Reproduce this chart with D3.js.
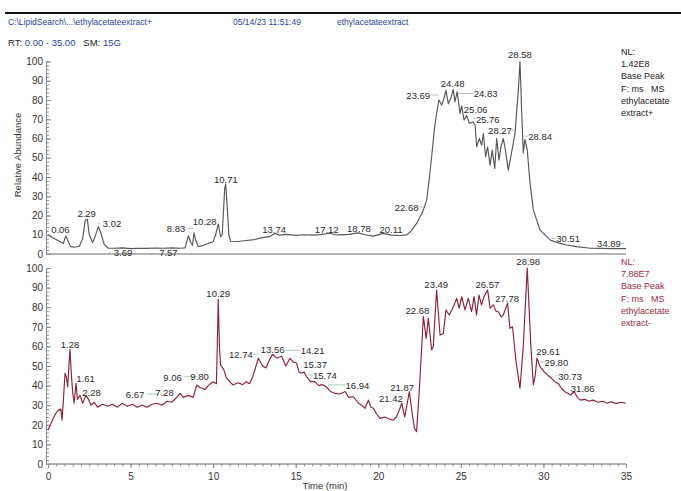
<!DOCTYPE html>
<html>
<head>
<meta charset="utf-8">
<script src="https://cdn.jsdelivr.net/npm/d3@7"></script>
<style>
  body { margin: 0; background: #fff; }
  svg { display: block; font-family: "Liberation Sans", Arial, sans-serif; }
  svg text { white-space: pre; }
</style>
</head>
<body>
<svg id="chart" width="681" height="491"></svg>
<script>
// positive-mode trace (time in min, relative abundance)
const topTimes = [0, 0.3, 0.6, 0.93, 1.07, 1.2, 1.37, 1.6, 1.9, 2.1, 2.25, 2.38, 2.5, 2.7, 2.85, 3.05, 3.2, 3.4, 3.65, 4.0, 4.5, 5.0, 5.5, 6.0, 6.5, 7.0, 7.5, 8.0, 8.3, 8.5, 8.65, 8.75, 8.84, 8.95, 9.1, 9.4, 9.7, 10.0, 10.15, 10.31, 10.45, 10.55, 10.7, 10.76, 10.85, 10.95, 11.06, 11.5, 12.0, 12.5, 13.0, 13.4, 13.74, 14.0, 14.5, 15.0, 15.5, 16.0, 16.5, 17.07, 17.4, 17.68, 18.2, 18.79, 19.2, 19.7, 20.3, 20.8, 21.3, 21.72, 22.0, 22.32, 22.69, 22.93, 23.1, 23.23, 23.4, 23.53, 23.67, 23.83, 23.95, 24.1, 24.24, 24.4, 24.54, 24.64, 24.78, 24.95, 25.05, 25.19, 25.35, 25.51, 25.72, 25.86, 25.96, 26.12, 26.26, 26.36, 26.5, 26.62, 26.77, 26.9, 27.05, 27.17, 27.31, 27.43, 27.57, 27.7, 27.87, 28.07, 28.28, 28.48, 28.58, 28.7, 28.78, 28.88, 29.02, 29.19, 29.39, 29.79, 30.4, 30.9, 31.41, 32.0, 32.82, 33.5, 34.2, 35];
const topValues = [9.9, 8.5, 7, 5.5, 9.3, 7, 3.8, 3.5, 4, 8, 17.5, 18, 10, 5.9, 9, 14.2, 11, 5, 3, 3, 3.2, 2.8, 3, 2.9, 3.1, 3, 3.2, 3, 3.2, 9.5, 6, 4.5, 11, 7, 3.8, 4.5, 5.5, 6.4, 10, 15.6, 9, 10, 34, 36.4, 25, 10, 6.6, 6.5, 7, 7.5, 8.5, 9, 10.7, 9.8, 10.2, 9.7, 10, 9.8, 10.1, 10.8, 10, 9.9, 10.2, 11, 10, 9.3, 10.7, 9.8, 9.6, 9.9, 12, 15.9, 22, 28, 40, 50.5, 65, 73, 80, 77.4, 80, 85, 78, 81, 85.5, 79, 84.3, 73, 77, 69.6, 72, 67.9, 68.6, 67, 55.7, 60, 56.5, 62.6, 50.5, 55.7, 46.2, 54, 44.5, 60, 48.7, 55.7, 60, 54, 43.6, 52.6, 62.7, 85, 100, 70, 52.5, 59.5, 54, 36.7, 22.9, 12.5, 7.3, 5.8, 4.7, 3.8, 3, 2.9, 2.8, 2.8];

// negative-mode trace
const botTimes = [0, 0.15, 0.32, 0.45, 0.62, 0.78, 0.85, 0.95, 1.03, 1.12, 1.19, 1.33, 1.42, 1.5, 1.58, 1.7, 1.78, 1.94, 2.1, 2.3, 2.45, 2.6, 2.8, 3.0, 3.3, 3.6, 3.9, 4.2, 4.5, 4.8, 5.1, 5.4, 5.7, 6.0, 6.3, 6.6, 6.9, 7.2, 7.5, 7.8, 8.0, 8.2, 8.5, 8.8, 9.0, 9.2, 9.5, 9.7, 10.0, 10.2, 10.31, 10.38, 10.45, 10.65, 10.8, 11.0, 11.2, 11.5, 11.8, 12.0, 12.2, 12.4, 12.74, 13.0, 13.2, 13.4, 13.6, 13.85, 14.15, 14.4, 14.65, 14.85, 15.05, 15.2, 15.35, 15.5, 15.65, 15.9, 16.15, 16.4, 16.6, 16.85, 17.1, 17.4, 17.68, 18.0, 18.2, 18.5, 18.8, 19.0, 19.2, 19.4, 19.55, 19.7, 19.9, 20.1, 20.4, 20.7, 20.9, 21.1, 21.25, 21.42, 21.6, 21.88, 22.08, 22.2, 22.32, 22.5, 22.73, 22.9, 23.03, 23.23, 23.33, 23.53, 23.74, 23.94, 24.1, 24.3, 24.55, 24.75, 24.9, 25.05, 25.25, 25.45, 25.65, 25.8, 25.95, 26.1, 26.25, 26.4, 26.62, 26.77, 26.97, 27.12, 27.27, 27.45, 27.57, 27.83, 27.97, 28.13, 28.33, 28.58, 28.78, 29.02, 29.23, 29.39, 29.5, 29.61, 29.8, 30.05, 30.3, 30.5, 30.7, 30.9, 31.1, 31.3, 31.5, 31.65, 31.86, 32.05, 32.25, 32.5, 32.75, 33.0, 33.3, 33.6, 33.85, 34.1, 34.4, 34.7, 35];
const botValues = [17.3, 20, 23.3, 25.5, 27.5, 28, 22.4, 35, 46.3, 44, 39.4, 58.5, 45, 36, 31, 41.2, 33, 35, 31, 35, 33, 30, 31.5, 29, 30.5, 29.5, 30.5, 29, 31, 29.5, 30.5, 29, 30, 29, 30.5, 31, 30, 32, 31.5, 34, 36, 34, 35, 34, 40.3, 39, 38, 40, 42, 41, 84, 60, 50.5, 48, 44, 42, 40.3, 41.5, 40.5, 42, 41, 44.5, 54, 50, 49, 53, 56, 54, 55, 50, 54, 52, 51.5, 47, 46.3, 47, 44.6, 42, 42, 40, 40.5, 39.4, 37, 36, 35.7, 37, 34, 34.3, 31, 30, 28.4, 32.6, 29, 28.4, 25.5, 23.3, 24, 22.8, 22.4, 24, 27, 31, 24, 36.9, 24, 18, 16.5, 40, 75.2, 64, 74.4, 58.2, 60, 88.8, 65.8, 66.6, 78.6, 76, 80.3, 84.5, 79.5, 85.4, 78.6, 84.5, 77.7, 85.4, 76, 86.2, 81.2, 85.4, 88.8, 79.5, 81.2, 78, 77.7, 75, 76, 82, 69.2, 70, 53, 38.6, 60, 100, 61.6, 40.3, 45, 54, 49.6, 47, 45, 43.6, 42, 41, 38.5, 36.9, 36, 35.2, 37, 34, 32.6, 33, 32, 32.6, 31.5, 32, 31, 31.8, 30.8, 31.5, 31];

// peak labels: text, label centre time, label baseline abundance
const topLabels = ['0.06', '2.29', '3.02', '3.69', '7.57', '8.83', '10.28', '10.71', '13.74', '17.12', '18.78', '20.11', '22.68', '23.69', '24.48', '24.83', '25.06', '25.76', '28.27', '28.58', '28.84', '30.51', '34.89'];
const topLabelT = [0.75, 2.34, 3.88, 4.54, 7.29, 7.75, 9.49, 10.77, 13.69, 16.88, 18.83, 20.77, 21.72, 22.42, 24.5, 26.5, 25.9, 26.63, 27.37, 28.58, 29.8, 31.49, 33.97];
const topLabelV = [10.9, 19, 14, -1, -1, 11.2, 15, 37, 11, 11, 11.2, 10.7, 22.3, 80.5, 86.5, 81.3, 73.5, 68.3, 62.3, 102, 59.2, 6, 3.4];

const botLabels = ['1.28', '1.61', '2.28', '6.67', '7.28', '9.06', '9.80', '10.29', '12.74', '13.56', '14.21', '15.37', '15.74', '16.94', '21.42', '21.87', '22.68', '23.49', '26.57', '27.78', '28.98', '29.61', '29.80', '30.73', '31.86'];
const botLabelT = [1.33, 2.27, 2.64, 5.27, 7.05, 7.54, 9.18, 10.31, 11.68, 13.6, 16.02, 16.17, 16.77, 18.74, 20.76, 21.44, 22.37, 23.51, 26.61, 27.8, 29.08, 30.28, 30.78, 31.61, 32.37];
const botLabelV = [59.2, 42, 34.9, 33.7, 34.9, 42.5, 42.9, 85, 54, 56.5, 56, 49, 43.4, 38.3, 31.5, 37.4, 76.5, 90, 90, 82.8, 101.5, 55.6, 50, 42.9, 36.6];

const yTickValues = d3.range(0, 101, 10);
const xTickValues = d3.range(0, 36, 5);

const topInfo = ['NL:', '1.42E8', 'Base Peak', 'F: ms   MS', 'ethylacetate', 'extract+'];
const botInfo = ['NL:', '7.88E7', 'Base Peak', 'F: ms   MS', 'ethylacetate', 'extract-'];

const svg = d3.select('#chart');
const blue = '#2b3f9c';
const axisColor = '#8a8a8a';

const x = d3.scaleLinear().domain([0, 35]).range([48, 626]);
const yTop = d3.scaleLinear().domain([0, 100]).range([254, 61.5]);
const yBot = d3.scaleLinear().domain([0, 100]).range([464, 268]);

// header
svg.append('line').attr('x1', 5).attr('x2', 681).attr('y1', 13).attr('y2', 13)
    .attr('stroke', '#111').attr('stroke-width', 2);
svg.append('text').attr('x', 8).attr('y', 25).attr('font-size', 8.5).attr('fill', blue)
    .text('C:\\LipidSearch\\...\\ethylacetateextract+');
svg.append('text').attr('x', 233).attr('y', 25).attr('font-size', 8.5).attr('fill', blue)
    .text('05/14/23 11:51:49');
svg.append('text').attr('x', 337).attr('y', 25).attr('font-size', 8.5).attr('fill', blue)
    .text('ethylacetateextract');
const rt = svg.append('text').attr('x', 8).attr('y', 46).attr('font-size', 9.5).attr('fill', '#222');
rt.append('tspan').text('RT: ');
rt.append('tspan').attr('fill', blue).text('0.00 - 35.00   ');
rt.append('tspan').text('SM: ');
rt.append('tspan').attr('fill', blue).text('15G');

function drawPanel(y, times, values, color, labels, labelT, labelV, info, infoColor, infoTop) {
    const g = svg.append('g');

    // y axis: labels on the left, ticks inside
    const yl = g.append('g').attr('transform', `translate(${x(0) - 2},0)`)
        .call(d3.axisLeft(y).tickValues(yTickValues).tickSize(0).tickPadding(3));
    yl.select('.domain').remove();
    yl.selectAll('text').attr('font-size', 10).attr('fill', '#333')
        .attr('font-family', '"Liberation Sans", Arial, sans-serif');

    const yMinor = g.append('g').attr('transform', `translate(${x(0) - 2},0)`)
        .call(d3.axisRight(y).tickValues(d3.range(0, 101, 2)).tickSize(3).tickFormat(''));
    yMinor.select('.domain').attr('stroke', axisColor);
    yMinor.selectAll('.tick line').attr('stroke', axisColor);
    const yMajor = g.append('g').attr('transform', `translate(${x(0) - 2},0)`)
        .call(d3.axisRight(y).tickValues(yTickValues).tickSize(5).tickFormat(''));
    yMajor.select('.domain').remove();
    yMajor.selectAll('.tick line').attr('stroke', axisColor);

    // baseline
    g.append('line').attr('x1', x(0) - 2).attr('x2', x(35)).attr('y1', y(0)).attr('y2', y(0))
        .attr('stroke', '#9a9a9a').attr('stroke-width', 1.6);

    const pts = times.map((t, i) => [t, values[i]]);
    g.append('path').datum(pts)
        .attr('fill', 'none').attr('stroke', color).attr('stroke-width', 1.15)
        .attr('stroke-linejoin', 'round')
        .attr('d', d3.line().x(d => x(d[0])).y(d => y(d[1])));

    // peak labels with leader lines
    labels.forEach((lab, i) => {
        const cx = x(labelT[i]);
        const by = y(labelV[i]);
        const peakX = x(+lab);
        const halfW = 12;
        if (peakX > cx + halfW + 2) {
            g.append('line').attr('x1', cx + halfW).attr('x2', peakX).attr('y1', by - 4).attr('y2', by - 4)
                .attr('stroke', '#a9c9bd').attr('stroke-width', 1);
        } else if (peakX < cx - halfW - 2) {
            g.append('line').attr('x1', peakX).attr('x2', cx - halfW).attr('y1', by - 4).attr('y2', by - 4)
                .attr('stroke', '#a9c9bd').attr('stroke-width', 1);
        }
        g.append('text').attr('x', cx).attr('y', by).attr('text-anchor', 'middle')
            .attr('font-size', 9.5).attr('fill', '#2a2a2a').text(lab);
    });

    // normalisation info block
    info.forEach((line, i) => {
        g.append('text').attr('x', 621).attr('y', infoTop + i * 12.2)
            .attr('font-size', 9).attr('fill', infoColor).text(line);
    });
}

drawPanel(yTop, topTimes, topValues, '#575757', topLabels, topLabelT, topLabelV, topInfo, '#222', 55);
drawPanel(yBot, botTimes, botValues, '#8c2236', botLabels, botLabelT, botLabelV, botInfo, '#9b2a3e', 265);

// bottom time axis
const xMinor = svg.append('g').attr('transform', `translate(0,${yBot(0)})`)
    .call(d3.axisBottom(x).tickValues(d3.range(0, 35.01, 0.5)).tickSize(2.5).tickFormat(''));
xMinor.select('.domain').remove();
xMinor.selectAll('.tick line').attr('stroke', axisColor);
const xMajor = svg.append('g').attr('transform', `translate(0,${yBot(0)})`)
    .call(d3.axisBottom(x).tickValues(xTickValues).tickSize(4).tickPadding(5));
xMajor.select('.domain').remove();
xMajor.selectAll('.tick line').attr('stroke', axisColor);
xMajor.selectAll('text').attr('font-size', 10).attr('fill', '#333')
    .attr('font-family', '"Liberation Sans", Arial, sans-serif');

svg.append('text').attr('x', 325).attr('y', 489).attr('text-anchor', 'middle')
    .attr('font-size', 9.5).attr('fill', '#333').text('Time (min)');
svg.append('text').attr('transform', 'translate(21,155) rotate(-90)').attr('text-anchor', 'middle')
    .attr('font-size', 9.5).attr('fill', '#333').text('Relative Abundance');
</script>
</body>
</html>
